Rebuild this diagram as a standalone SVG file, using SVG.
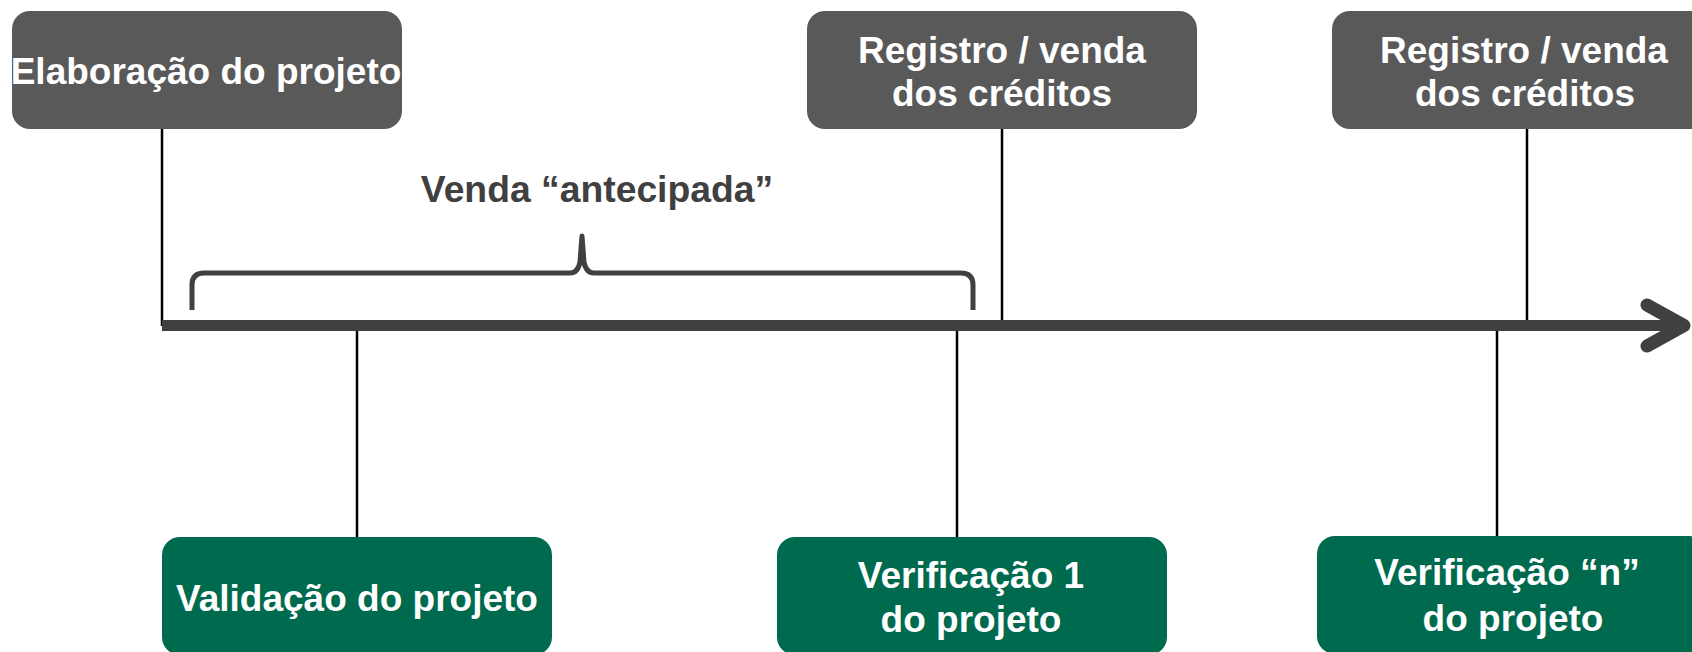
<svg xmlns="http://www.w3.org/2000/svg" width="1692" height="652" viewBox="0 0 1692 652">
<style>
.gray{fill:#595959}
.green{fill:#006A4E}
.t{font-family:"Liberation Sans",Arial,sans-serif;font-weight:bold;font-size:37px;fill:#ffffff;text-anchor:middle}
.lbl{font-family:"Liberation Sans",Arial,sans-serif;font-weight:bold;font-size:37.3px;fill:#404040;text-anchor:middle}
.tick{stroke:#000000;stroke-width:2.5;fill:none}
</style>
<rect width="1692" height="652" fill="#ffffff"/>
<g id="connectors">
<line class="tick" x1="162" y1="129" x2="162" y2="326"/>
<line class="tick" x1="1002" y1="129" x2="1002" y2="324"/>
<line class="tick" x1="1527" y1="129" x2="1527" y2="324"/>
<line class="tick" x1="357" y1="328" x2="357" y2="537"/>
<line class="tick" x1="957" y1="328" x2="957" y2="537"/>
<line class="tick" x1="1497" y1="328" x2="1497" y2="537"/>
</g>
<g id="axis">
<line x1="162" y1="325.5" x2="1684" y2="325.5" stroke="#404040" stroke-width="11"/>
<polyline points="1647,305 1684,325.5 1647,346" fill="none" stroke="#404040" stroke-width="13" stroke-linecap="round" stroke-linejoin="round"/>
</g>
<g id="brace">
<path d="M192,310 V285 Q192,273 204,273 H570 Q578,273 580,262 L582,236 L584,262 Q586,273 594,273 H961 Q973,273 973,285 V310" fill="none" stroke="#404040" stroke-width="5" stroke-linejoin="round"/>
<text class="lbl" x="597" y="202">Venda “antecipada”</text>
</g>
<g id="node-elaboracao">
<rect class="gray" x="12" y="11" width="390" height="118" rx="18"/>
<text class="t" x="206" y="84">Elaboração do projeto</text>
</g>
<g id="node-registro1">
<rect class="gray" x="807" y="11" width="390" height="118" rx="18"/>
<text class="t" x="1002" y="63">Registro / venda</text>
<text class="t" x="1002" y="106">dos créditos</text>
</g>
<g id="node-registro2">
<rect class="gray" x="1332" y="11" width="390" height="118" rx="18"/>
<text class="t" x="1524" y="63">Registro / venda</text>
<text class="t" x="1525" y="106">dos créditos</text>
</g>
<g id="node-validacao">
<rect class="green" x="162" y="537" width="390" height="118" rx="18"/>
<text class="t" x="357" y="611">Validação do projeto</text>
</g>
<g id="node-verificacao1">
<rect class="green" x="777" y="537" width="390" height="118" rx="18"/>
<text class="t" x="971" y="588">Verificação 1</text>
<text class="t" x="971" y="632">do projeto</text>
</g>
<g id="node-verificacaon">
<rect class="green" x="1317" y="536" width="390" height="118" rx="18"/>
<text class="t" x="1507" y="585">Verificação “n”</text>
<text class="t" x="1513" y="631">do projeto</text>
</g>
</svg>
